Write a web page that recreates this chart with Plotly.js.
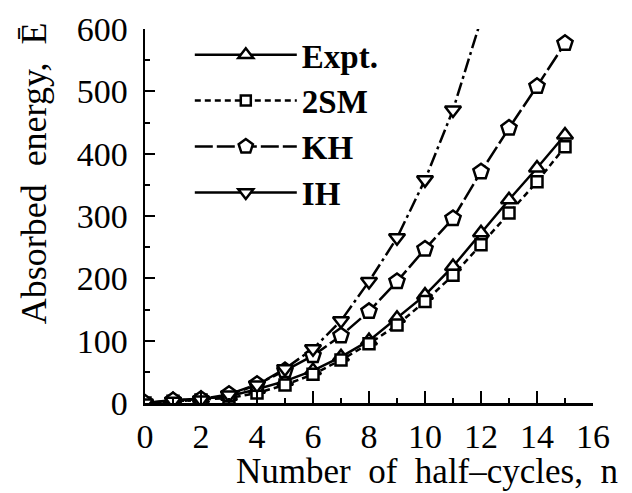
<!DOCTYPE html>
<html>
<head>
<meta charset="utf-8">
<script src="https://cdn.plot.ly/plotly-3.0.1.min.js"></script>
<style>html,body{margin:0;padding:0;background:#fff;}#chart{width:632px;height:493px;}</style>
</head>
<body>
<div id="chart"></div>
<script>
const nExpt = [0,1,2,3,4,5,6,7,8,9,10,11,12,13,14,15];
const expt  = [0,5,7,11,22,35,52,74,100,136,173,219,273,326,377,430];
const n2SM  = [0,1,2,3,4,5,6,7,8,9,10,11,12,13,14,15];
const sm2   = [0,3,5,8,16,29,46,69,95,125,163,205,254,305,355,411];
const nKH   = [0,1,2,3,4,5,6,7,8,9,10,11,12,13,14,15];
const kh    = [0,4,6,14,30,52,76,108,147,195,247,296,371,441,508,577];
const nIH   = [0,1,2,3,4,5,6,7,8,9,10,11,12];
const ih    = [0,3,5,13,29,55,87,132,195,265,358,470,615];
const names = ["Expt.","2SM","KH","IH"];
const xTicks = [0,2,4,6,8,10,12,14,16];
const yTicks = [0,100,200,300,400,500,600];

const serif = "Liberation Serif, Times New Roman, serif";

const specs = [
  {x: nExpt, y: expt, name: names[0], dash: "solid", legDash: "solid", sym: "triangle-up", size: 14},
  {x: n2SM, y: sm2, name: names[1], dash: "6px,4px", legDash: "6px,4px", sym: "square", size: 11},
  {x: nKH, y: kh, name: names[2], dash: "18px,4px", legDash: "18px,4px", sym: "pentagon", size: 16},
  {x: nIH, y: ih, name: names[3], dash: "14px,4px,3px,4px", legDash: "solid", sym: "triangle-down", size: 14}
];

const traces = [];
specs.forEach((s, i) => {
  traces.push({
    x: s.x, y: s.y, type: "scatter", mode: "lines+markers", name: s.name,
    showlegend: false,
    line: {color: "#000", width: 2.5, dash: s.dash},
    marker: {symbol: s.sym, size: s.size, color: "#fff", line: {color: "#000", width: 2.5}}
  });
});
specs.forEach((s, i) => {
  traces.push({
    x: [null], y: [null], type: "scatter", mode: "lines+markers", name: s.name,
    legendgroup: "g" + i, showlegend: true,
    line: {color: "#000", width: 2.5, dash: s.legDash},
    marker: {symbol: s.sym, size: s.size - 1, color: "#fff", line: {color: "#000", width: 2.5}}
  });
});

const layout = {
  width: 632, height: 493,
  margin: {l: 145, r: 39, t: 29, b: 90},
  paper_bgcolor: "#fff", plot_bgcolor: "#fff",
  showlegend: true,
  legend: {
    x: 0.1, y: 1.006, xanchor: "left", yanchor: "top",
    bgcolor: "rgba(0,0,0,0)", borderwidth: 0,
    font: {family: serif, size: 33, color: "#000", weight: "bold"},
    itemwidth: 102, tracegroupgap: 0, traceorder: "grouped"
  },
  xaxis: {
    range: [0, 16], tickvals: xTicks, ticks: "inside", ticklen: 12, tickwidth: 2, tickcolor: "#000",
    showline: true, linecolor: "#000", linewidth: 2.5, showgrid: false, zeroline: false,
    minor: {dtick: 1, ticks: "inside", ticklen: 5, tickwidth: 2, tickcolor: "#000", showgrid: false},
    tickfont: {family: serif, size: 34, color: "#000"},
    ticklabelstandoff: 2,
    fixedrange: true
  },
  yaxis: {
    range: [0, 600], tickvals: yTicks, ticks: "inside", ticklen: 10, tickwidth: 2, tickcolor: "#000",
    showline: true, linecolor: "#000", linewidth: 2.5, showgrid: false, zeroline: false,
    minor: {dtick: 50, ticks: "inside", ticklen: 5, tickwidth: 2, tickcolor: "#000", showgrid: false},
    tickfont: {family: serif, size: 34, color: "#000"},
    ticklabelstandoff: 8,
    fixedrange: true
  },
  annotations: [
    {
      text: "Absorbed  energy,  E\u0304", xref: "paper", yref: "paper", x: -0.247, y: 0.615,
      xanchor: "center", yanchor: "middle", textangle: -90, showarrow: false,
      font: {family: serif, size: 36, color: "#000"}
    },
    {
      text: "Number  of  half\u2013cycles,  n", xref: "paper", yref: "paper", x: 0.63, y: -0.182,
      xanchor: "center", yanchor: "middle", showarrow: false,
      font: {family: serif, size: 35, color: "#000"}
    }
  ]
};

Plotly.newPlot("chart", traces, layout, {staticPlot: true, displayModeBar: false});
</script>
</body>
</html>
